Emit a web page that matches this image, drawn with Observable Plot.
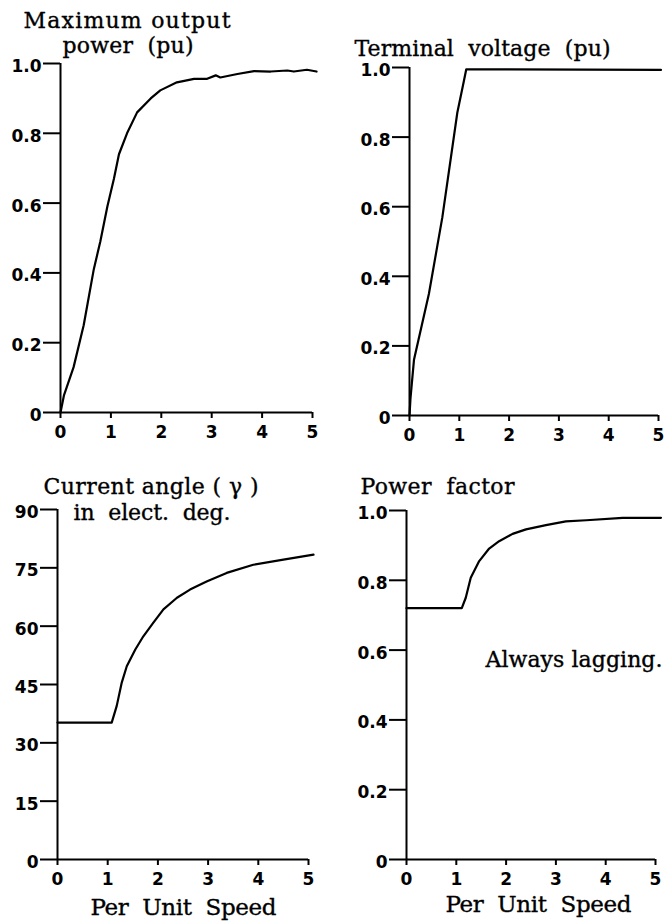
<!DOCTYPE html>
<html>
<head>
<meta charset="utf-8">
<script src="https://cdn.jsdelivr.net/npm/d3@7"></script>
<script src="https://cdn.jsdelivr.net/npm/@observablehq/plot@0.6"></script>
<style>
  html, body { margin: 0; padding: 0; background: #fff; }
  #chart { position: relative; width: 664px; height: 922px; overflow: hidden; background: #fff; }
  .panel { position: absolute; }
  .panel svg { overflow: visible; }
</style>
</head>
<body>
<div id="chart"></div>
<script>
// ---- Data ----
const speedTicks = [0, 1, 2, 3, 4, 5];
const puTicks = [0, 0.2, 0.4, 0.6, 0.8, 1.0];
const angleTicks = [0, 15, 30, 45, 60, 75, 90];

// Maximum output power (pu) vs per unit speed
const powerSpeed = [0, 0.07, 0.26, 0.46, 0.66, 0.79, 0.93, 1.06, 1.16, 1.32, 1.52, 1.79, 1.98, 2.31, 2.65, 2.91, 3.08, 3.17, 3.51, 3.84, 4.17, 4.50, 4.63, 4.89, 5.08];
const powerOut   = [0, 0.05, 0.13, 0.25, 0.41, 0.49, 0.59, 0.67, 0.74, 0.80, 0.86, 0.90, 0.923, 0.946, 0.956, 0.956, 0.966, 0.960, 0.970, 0.978, 0.977, 0.980, 0.977, 0.982, 0.977];

// Terminal voltage (pu)
const voltageSpeed = [0, 0.02, 0.09, 0.39, 0.66, 0.96, 1.09, 1.14, 5.05];
const voltageOut   = [0, 0.05, 0.16, 0.35, 0.57, 0.87, 0.96, 0.995, 0.993];

// Current angle (deg)
const angleSpeed = [0, 1.08, 1.18, 1.28, 1.38, 1.55, 1.71, 1.91, 2.11, 2.38, 2.64, 2.97, 3.37, 3.90, 4.50, 5.10];
const angleDeg   = [35.2, 35.2, 39.5, 45.5, 49.7, 54.0, 57.4, 60.9, 64.3, 67.3, 69.4, 71.5, 73.7, 75.8, 77.1, 78.4];

// Power factor
const pfSpeed = [0, 1.11, 1.19, 1.29, 1.46, 1.66, 1.86, 2.13, 2.40, 2.80, 3.20, 3.61, 4.34, 5.11];
const pfValue = [0.72, 0.72, 0.75, 0.807, 0.855, 0.891, 0.912, 0.933, 0.946, 0.958, 0.969, 0.972, 0.979, 0.979];

// Text
const titlePower = ["Maximum output", "power  (pu)"];
const titleVoltage = ["Terminal  voltage  (pu)"];
const titleAngle = ["Current angle ( γ )", "in  elect.  deg."];
const titlePf = ["Power  factor"];
const noteText = "Always lagging.";
const xLabel = "Per  Unit  Speed";

// ---- Layout / style (not data) ----
const serif = "'DejaVu Serif', serif";
const sans = "'DejaVu Sans', sans-serif";
const textWidths = new Map([
  [titlePower[0], 207], [titlePower[1], 131], [titleVoltage[0], 256],
  [titleAngle[0], 215], [titleAngle[1], 157], [titlePf[0], 154],
  [noteText, 177], [xLabel, 186]
]);

const toRows = (xs, ys) => xs.map((x, i) => ({x, y: ys[i]}));
const puFormat = d => d === 0 ? "0" : d.toFixed(1);

function label(text, anchor, dx, dy, size = 22) {
  return Plot.text([text], {
    text: d => d, frameAnchor: anchor, textAnchor: "start", lineAnchor: "bottom",
    dx, dy, fontFamily: serif, fontSize: size, fill: "#000", stroke: "#000", strokeWidth: 0.35
  });
}

function panel({left, top, ml, mr, mt, mb, yMax, yTicks, yFormat, rows, texts}) {
  const axisCommon = {label: null, fontFamily: sans, fontSize: 17, fontWeight: "bold"};
  const plot = Plot.plot({
    width: 332, height: 461,
    marginLeft: ml, marginRight: mr, marginTop: mt, marginBottom: mb,
    style: {background: "transparent", color: "#000"},
    x: {domain: [0, 5]},
    y: {domain: [0, yMax]},
    marks: [
      Plot.axisX({...axisCommon, ticks: speedTicks, tickFormat: d => String(d), tickSize: 6, tickPadding: 7, strokeWidth: 2}),
      Plot.axisY({...axisCommon, ticks: yTicks, tickFormat: yFormat, tickSize: 17, tickPadding: 2, strokeWidth: 2, fill: "none"}),
      Plot.axisY({...axisCommon, ticks: yTicks, tickFormat: yFormat, tickSize: 17, tickPadding: 2, stroke: "none", dy: 3}),
      Plot.ruleX([0], {stroke: "#000", strokeWidth: 2}),
      Plot.ruleY([0], {stroke: "#000", strokeWidth: 2}),
      Plot.line(rows, {x: "x", y: "y", stroke: "#000", strokeWidth: 2.2}),
      ...texts
    ]
  });
  d3.select(plot).selectAll("text").each(function () {
    const w = textWidths.get(this.textContent);
    if (w) { this.setAttribute("textLength", w); this.setAttribute("lengthAdjust", "spacing"); }
  });
  const div = document.createElement("div");
  div.className = "panel";
  div.style.left = left + "px";
  div.style.top = top + "px";
  div.appendChild(plot);
  document.getElementById("chart").appendChild(div);
}

panel({left: 0, top: 0, ml: 60, mr: 20, mt: 63, mb: 49, yMax: 1, yTicks: puTicks, yFormat: puFormat,
  rows: toRows(powerSpeed, powerOut),
  texts: [label(titlePower[0], "top-left", -37, -36), label(titlePower[1], "top-left", 2, -11)]});

panel({left: 332, top: 0, ml: 77, mr: 6, mt: 67, mb: 46, yMax: 1, yTicks: puTicks, yFormat: puFormat,
  rows: toRows(voltageSpeed, voltageOut),
  texts: [label(titleVoltage[0], "top-left", -55, -12)]});

panel({left: 0, top: 461, ml: 57, mr: 24, mt: 48, mb: 63, yMax: 90, yTicks: angleTicks, yFormat: d => String(d),
  rows: toRows(angleSpeed, angleDeg),
  texts: [label(titleAngle[0], "top-left", -14, -16), label(titleAngle[1], "top-left", 16, 10),
          label(xLabel, "bottom-left", 33, 55, 23)]});

panel({left: 332, top: 461, ml: 74, mr: 9, mt: 49, mb: 63, yMax: 1, yTicks: puTicks, yFormat: puFormat,
  rows: toRows(pfSpeed, pfValue),
  texts: [label(titlePf[0], "top-left", -46, -17), label(noteText, "top-left", 79, 156),
          label(xLabel, "bottom-left", 39, 52, 23)]});
</script>
</body>
</html>
